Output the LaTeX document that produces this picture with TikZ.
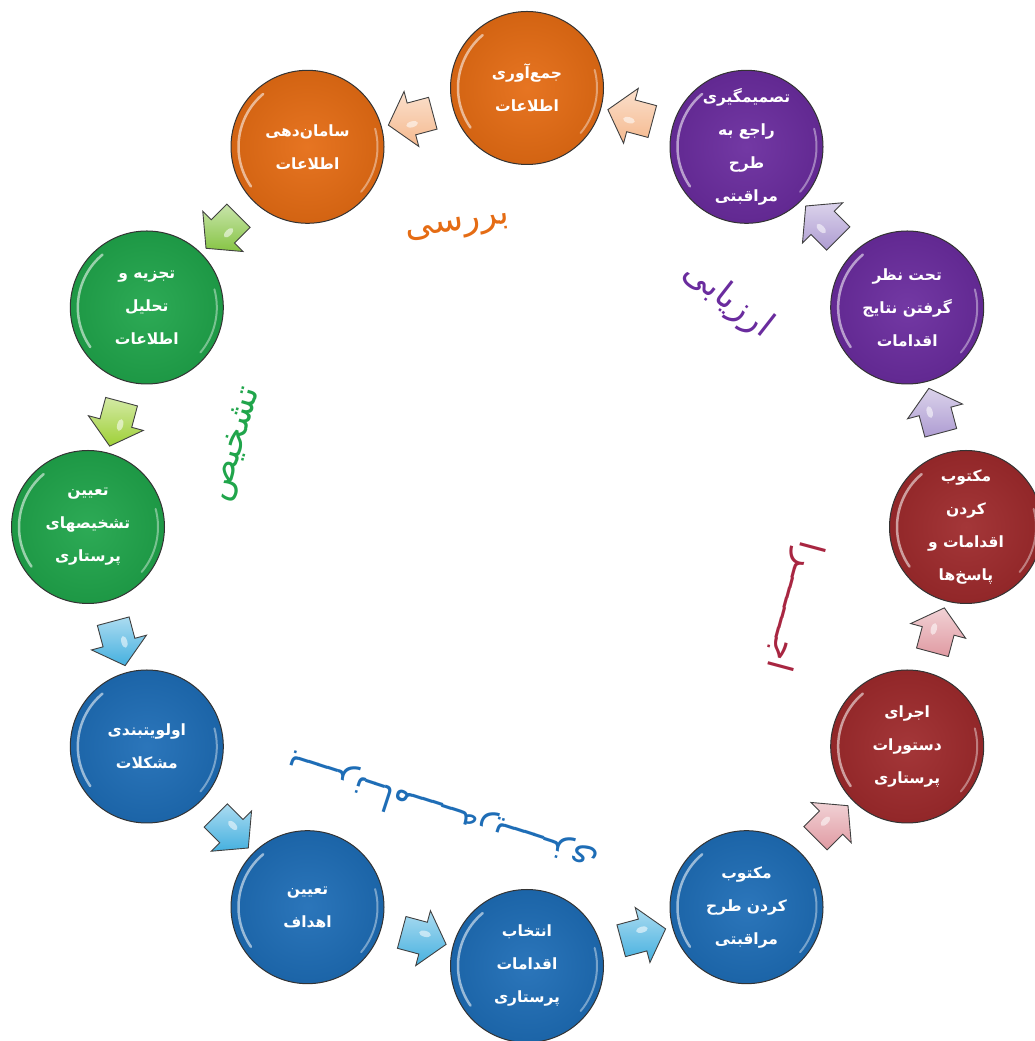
\documentclass[tikz,border=0pt]{standalone}
\usepackage{fontspec}
\newfontfamily\arabicfont[Script=Arabic]{DejaVu Sans}
\TeXXeTstate=1
\usetikzlibrary{shapes.arrows,calc}
\newcommand{\rl}[1]{\beginR #1\endR}
\definecolor{corange}{HTML}{E56C14}
\definecolor{cgreen}{HTML}{20A54B}
\definecolor{cblue}{HTML}{1E6DB6}
\definecolor{cred}{HTML}{9E2A2C}
\definecolor{cpurple}{HTML}{6A2C9E}
\definecolor{apeach}{HTML}{F5B98E}
\definecolor{agreen}{HTML}{86C444}
\definecolor{ablue}{HTML}{45B0DF}
\definecolor{apink}{HTML}{E09AA2}
\definecolor{alav}{HTML}{AE9CD2}
\tikzset{
  disc/.style={circle, minimum size=153pt, inner sep=0pt, draw=black!80, line width=1pt,
    text=white, align=center, font=\arabicfont\bfseries\fontsize{15.5}{33}\selectfont,
    inner color=#1!94!white, outer color=#1!92!black,
    path picture={
      \draw[white, opacity=.55, line width=2.5pt, line cap=round]
        ($(path picture bounding box.center)+(130:69pt)$) arc[start angle=130, end angle=215, radius=69pt];
      \draw[white, opacity=.4, line width=2pt, line cap=round]
        ($(path picture bounding box.center)+(-40:70pt)$) arc[start angle=-40, end angle=15, radius=70pt];
    }},
  blockarr/.style={single arrow, draw=black!75, line width=.9pt, minimum height=46pt,
    inner xsep=0pt, inner ysep=16pt, single arrow head extend=12pt, single arrow tip angle=100,
    top color=#1!45!white, bottom color=#1,
    path picture={
      \fill[white, opacity=.55] ($(path picture bounding box.center)+(2pt,5pt)$) ellipse[x radius=6pt, y radius=3pt];
    }},
  phase/.style={font=\arabicfont\fontsize{35}{40}\selectfont, inner sep=0pt},
}
\begin{document}
\begin{tikzpicture}[x=1pt,y=1pt]
\useasboundingbox (0,0) rectangle (1035,1041);
\fill[white] (0,0) rectangle (1035,1041);
\coordinate (O) at (527,514);
% circles
\node[disc=corange] (c1)  at ($(O)+(90:439)$)  {\rl{جمع‌آوری}\\\rl{اطلاعات}};
\node[disc=corange] (c2)  at ($(O)+(120:439)$) {\rl{سامان‌دهی}\\\rl{اطلاعات}};
\node[disc=cgreen]  (c3)  at ($(O)+(150:439)$) {\rl{تجزیه و}\\\rl{تحلیل}\\\rl{اطلاعات}};
\node[disc=cgreen]  (c4)  at ($(O)+(180:439)$) {\rl{تعیین}\\\rl{تشخیصهای}\\\rl{پرستاری}};
\node[disc=cblue]   (c5)  at ($(O)+(210:439)$) {\rl{اولویتبندی}\\\rl{مشکلات}};
\node[disc=cblue]   (c6)  at ($(O)+(240:439)$) {\rl{تعیین}\\\rl{اهداف}};
\node[disc=cblue]   (c7)  at ($(O)+(270:439)$) {\rl{انتخاب}\\\rl{اقدامات}\\\rl{پرستاری}};
\node[disc=cblue]   (c8)  at ($(O)+(300:439)$) {\rl{مکتوب}\\\rl{کردن طرح}\\\rl{مراقبتی}};
\node[disc=cred]    (c9)  at ($(O)+(330:439)$) {\rl{اجرای}\\\rl{دستورات}\\\rl{پرستاری}};
\node[disc=cred]    (c10) at ($(O)+(0:439)$)   {\rl{مکتوب}\\\rl{کردن}\\\rl{اقدامات و}\\\rl{پاسخ‌ها}};
\node[disc=cpurple] (c11) at ($(O)+(30:439)$)  {\rl{تحت نظر}\\\rl{گرفتن نتایج}\\\rl{اقدامات}};
\node[disc=cpurple] (c12) at ($(O)+(60:439)$)  {\rl{تصمیمگیری}\\\rl{راجع به}\\\rl{طرح}\\\rl{مراقبتی}};
% block arrows between circles
\node[blockarr=apeach, rotate=195] (a1)  at ($(c1)!0.5!(c2)$) {};
\node[blockarr=agreen, rotate=225] (a2)  at ($(c2)!0.5!(c3)$) {};
\node[blockarr=agreen!80!yellow, rotate=255] (a3)  at ($(c3)!0.5!(c4)$) {};
\node[blockarr=ablue,  rotate=285] (a4)  at ($(c4)!0.5!(c5)$) {};
\node[blockarr=ablue,  rotate=315] (a5)  at ($(c5)!0.5!(c6)$) {};
\node[blockarr=ablue,  rotate=345] (a6)  at ($(c6)!0.5!(c7)$) {};
\node[blockarr=ablue,  rotate=15]  (a7)  at ($(c7)!0.5!(c8)$) {};
\node[blockarr=apink,  rotate=45]  (a8)  at ($(c8)!0.5!(c9)$) {};
\node[blockarr=apink,  rotate=75]  (a9)  at ($(c9)!0.5!(c10)$) {};
\node[blockarr=alav,   rotate=105] (a10) at ($(c10)!0.5!(c11)$) {};
\node[blockarr=alav,   rotate=135] (a11) at ($(c11)!0.5!(c12)$) {};
\node[blockarr=apeach, rotate=165] (a12) at ($(c12)!0.5!(c1)$) {};
% phase labels
\node[phase, text=corange, rotate=8]    (p1) at (458,813) {\rl{بررسی}};
\node[phase, text=cgreen,  rotate=74]   (p2) at (237,596) {\rl{تشخیص}};
\node[phase, text=cblue,   rotate=162]  (p3) at (442,228) {\rl{بــــرنــامـــــه‌ریـــــزی}};
\node[phase, text=cred!90!magenta, rotate=-105] (p4) at (793,435) {\rl{اجـــــــرا}};
\node[phase, text=cpurple, rotate=-38]  (p5) at (728,741) {\rl{ارزیابی}};
\end{tikzpicture}
\end{document}
